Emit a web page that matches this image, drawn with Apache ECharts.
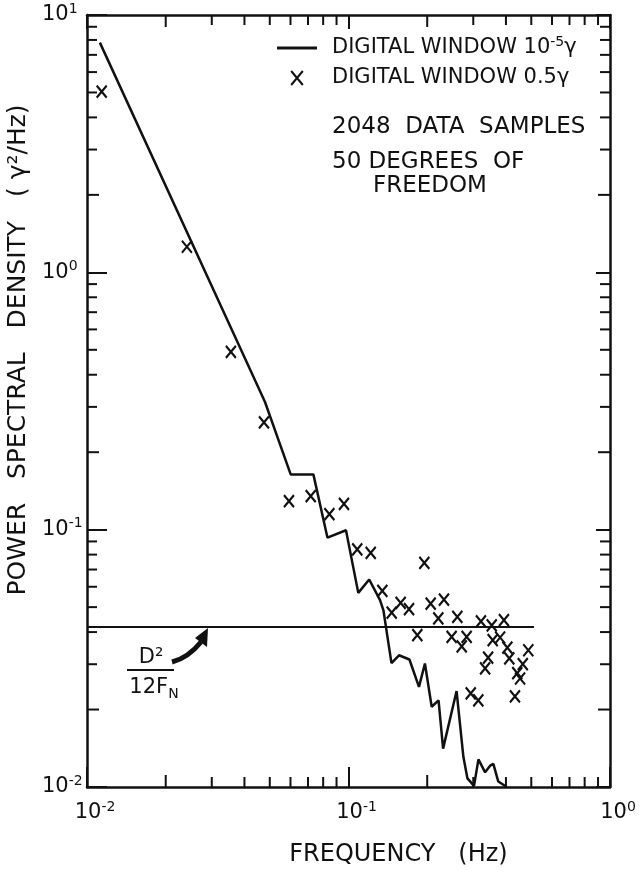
<!DOCTYPE html>
<html>
<head>
<meta charset="utf-8">
<script src="https://cdn.jsdelivr.net/npm/echarts@6/dist/echarts.min.js"></script>
<style>
html, body { margin: 0; padding: 0; background: #fff; }
#container { width: 644px; height: 871px; }
</style>
</head>
<body>
<div id="container"></div>
<script>
//digital window 10^-5 gamma, solid curve
var lineFreq = [0.0112, 0.0479, 0.0601, 0.0734, 0.0831, 0.0978, 0.109, 0.120, 0.132, 0.136, 0.146, 0.156, 0.171, 0.186,
    0.196, 0.208, 0.221, 0.230, 0.259, 0.275, 0.285, 0.302, 0.314, 0.333, 0.348, 0.358, 0.374, 0.403];
var linePsd = [7.81, 0.314, 0.164, 0.164, 0.0931, 0.0995, 0.0568, 0.0640, 0.0532, 0.0486, 0.0303, 0.0325, 0.0313, 0.0245,
    0.0302, 0.0205, 0.0217, 0.0141, 0.0236, 0.0131, 0.0108, 0.0101, 0.0128, 0.0114, 0.0121, 0.0123, 0.0105, 0.0100];
//digital window 0.5 gamma, x marks
var markFreq = [0.01138, 0.0241, 0.0355, 0.0475, 0.0592, 0.0717, 0.0845, 0.0961, 0.108, 0.1216, 0.195, 0.1347, 0.1463,
    0.1583, 0.1704, 0.1833, 0.2062, 0.2318, 0.2205, 0.2607, 0.248, 0.271, 0.283, 0.321, 0.353, 0.393, 0.356, 0.380,
    0.405, 0.412, 0.487, 0.342, 0.333, 0.464, 0.442, 0.453, 0.433, 0.2934, 0.3136];
var markPsd = [5.04, 1.257, 0.491, 0.261, 0.129, 0.135, 0.115, 0.126, 0.0838, 0.0813, 0.0743, 0.0578, 0.0476,
    0.0519, 0.0491, 0.0389, 0.0516, 0.0535, 0.0452, 0.0458, 0.0383, 0.0352, 0.0383, 0.0440, 0.0425, 0.0445, 0.0372, 0.0381,
    0.0348, 0.0316, 0.0340, 0.0318, 0.0289, 0.0300, 0.0277, 0.0264, 0.0225, 0.0231, 0.0217];
//D^2/12FN level
var levelFreq = [0.01, 0.512];
var levelPsd = [0.0419, 0.0419];
//minor tick values
var minorFreq = [0.02, 0.03, 0.04, 0.05, 0.06, 0.07, 0.08, 0.09, 0.2, 0.3, 0.4, 0.5, 0.6, 0.7, 0.8, 0.9];
var minorPsd = [0.02, 0.03, 0.04, 0.05, 0.06, 0.07, 0.08, 0.09, 0.2, 0.3, 0.4, 0.5, 0.6, 0.7, 0.8, 0.9,
    2, 3, 4, 5, 6, 7, 8, 9];

var FONT = 'DejaVu Sans';
var INK = '#111';
var lineName = 'DIGITAL WINDOW 10-5γ';
var markName = 'DIGITAL WINDOW 0.5γ';

function zip(a, b) {
    var out = [];
    for (var i = 0; i < a.length; i++) out.push([a[i], b[i]]);
    return out;
}
//10 的幂标签
function powLabel(v) {
    var e = Math.round(Math.log(v) / Math.LN10);
    return '{b|10}{s|' + (e < 0 ? '-' + (-e) : e) + '}';
}
var labelRich = {
    b: { fontFamily: FONT, fontSize: 21, color: INK, lineHeight: 26 },
    s: { fontFamily: FONT, fontSize: 14, color: INK, lineHeight: 14, verticalAlign: 'top' }
};
function isTwo(v) {
    var m = v / Math.pow(10, Math.floor(Math.log(v) / Math.LN10 + 1e-9));
    return Math.abs(m - 2) < 1e-6;
}
var tickStyle = { stroke: INK, lineWidth: 2 };

var dom = document.getElementById('container');
var myChart = echarts.init(dom);
var option = {
    backgroundColor: '#fff',
    animation: false,
    //坐标名不要把绘图区挤小
    grid: { left: 87, right: 34, top: 15, bottom: 84, outerBoundsMode: 'none' },
    legend: {
        orient: 'vertical',
        left: 272,
        top: 30,
        itemWidth: 40,
        itemHeight: 14,
        itemGap: 9,
        data: [
            { name: lineName, icon: 'path://M0,0H40V3H0Z' },
            { name: markName }
        ],
        formatter: function (name) {
            if (name === lineName) return '{t|DIGITAL WINDOW 10}{sup|-5}{t|γ}';
            return '{t|' + name + '}';
        },
        textStyle: {
            fontFamily: FONT, fontSize: 21, color: INK, padding: [0, 0, 0, 10],
            rich: {
                t: { fontFamily: FONT, fontSize: 21, color: INK, lineHeight: 26 },
                sup: { fontFamily: FONT, fontSize: 14, color: INK, lineHeight: 14, verticalAlign: 'top' }
            }
        }
    },
    xAxis: [{
        type: 'log', min: 0.01, max: 1, position: 'bottom',
        name: 'FREQUENCY   (Hz)', nameLocation: 'middle', nameGap: 56,
        nameTextStyle: { fontFamily: FONT, fontSize: 24, color: INK, padding: [0, 0, 0, 100] },
        axisLine: { lineStyle: { color: INK, width: 2.5 } },
        axisTick: { inside: true, length: 20, lineStyle: { color: INK, width: 2 } },
        axisLabel: { formatter: powLabel, rich: labelRich, margin: 13, padding: [0, 0, 0, 16], showMinLabel: true, showMaxLabel: true },
        splitLine: { show: false }
    }, {
        type: 'log', min: 0.01, max: 1, position: 'top',
        axisLine: { lineStyle: { color: INK, width: 2.5 } },
        axisTick: { inside: true, length: 14, lineStyle: { color: INK, width: 2 } },
        axisLabel: { show: false },
        splitLine: { show: false }
    }],
    yAxis: [{
        type: 'log', min: 0.01, max: 10, position: 'left',
        name: 'POWER   SPECTRAL   DENSITY   ( γ²/Hz)', nameLocation: 'middle', nameGap: 47,
        nameTextStyle: { fontFamily: FONT, fontSize: 25, color: INK, padding: [0, 0, 0, 102] },
        axisLine: { lineStyle: { color: INK, width: 2.5 } },
        axisTick: { inside: true, length: 20, lineStyle: { color: INK, width: 2 } },
        axisLabel: { formatter: powLabel, rich: labelRich, margin: 45, align: 'left', showMinLabel: true, showMaxLabel: true },
        splitLine: { show: false }
    }, {
        type: 'log', min: 0.01, max: 10, position: 'right',
        axisLine: { lineStyle: { color: INK, width: 2.5 } },
        axisTick: { inside: true, length: 14, lineStyle: { color: INK, width: 2 } },
        axisLabel: { show: false },
        splitLine: { show: false }
    }],
    series: [{
        name: lineName,
        type: 'line',
        symbol: 'none',
        lineStyle: { color: INK, width: 2.5 },
        itemStyle: { color: INK },
        data: zip(lineFreq, linePsd)
    }, {
        name: markName,
        type: 'scatter',
        symbol: 'path://M0,0L10,12M10,0L0,12',
        symbolSize: [10, 12],
        itemStyle: { color: INK, borderColor: INK, borderWidth: 2.2, opacity: 1 },
        data: zip(markFreq, markPsd)
    }, {
        name: 'level',
        type: 'line',
        symbol: 'none',
        lineStyle: { color: INK, width: 2 },
        data: zip(levelFreq, levelPsd)
    }, {
        //横轴次刻度，上下两边
        name: 'xminor',
        type: 'custom',
        silent: true,
        clip: false,
        renderItem: function (params, api) {
            var v = api.value(0);
            var p = api.coord([v, 0.01]);
            var cs = params.coordSys;
            var len = isTwo(v) ? 12 : 10;
            var bottom = cs.y + cs.height;
            return {
                type: 'group', children: [
                    { type: 'line', shape: { x1: p[0], y1: bottom, x2: p[0], y2: bottom - len }, style: tickStyle },
                    { type: 'line', shape: { x1: p[0], y1: cs.y, x2: p[0], y2: cs.y + len }, style: tickStyle }
                ]
            };
        },
        data: minorFreq.map(function (v) { return [v, 0.01]; })
    }, {
        //纵轴次刻度，左右两边
        name: 'yminor',
        type: 'custom',
        silent: true,
        clip: false,
        renderItem: function (params, api) {
            var v = api.value(1);
            var p = api.coord([0.01, v]);
            var cs = params.coordSys;
            var len = isTwo(v) ? 12 : 10;
            var right = cs.x + cs.width;
            return {
                type: 'group', children: [
                    { type: 'line', shape: { x1: cs.x, y1: p[1], x2: cs.x + len, y2: p[1] }, style: tickStyle },
                    { type: 'line', shape: { x1: right, y1: p[1], x2: right - len, y2: p[1] }, style: tickStyle }
                ]
            };
        },
        data: minorPsd.map(function (v) { return [0.01, v]; })
    }],
    graphic: [
        { type: 'text', style: { text: '2048  DATA  SAMPLES', x: 332, y: 127, verticalAlign: 'middle', fontFamily: FONT, fontSize: 23, fill: INK } },
        { type: 'text', style: { text: '50 DEGREES  OF', x: 332, y: 162, verticalAlign: 'middle', fontFamily: FONT, fontSize: 23, fill: INK } },
        { type: 'text', style: { text: 'FREEDOM', x: 430, y: 186, align: 'center', verticalAlign: 'middle', fontFamily: FONT, fontSize: 23, fill: INK } },
        { type: 'text', style: { text: 'D²', x: 151, y: 658, align: 'center', verticalAlign: 'middle', fontFamily: FONT, fontSize: 21, fill: INK } },
        { type: 'line', shape: { x1: 127, y1: 670, x2: 174, y2: 670 }, style: { stroke: INK, lineWidth: 2 } },
        {
            type: 'text', style: {
                text: '{m|12F}{n|N}', x: 154, y: 689, align: 'center', verticalAlign: 'middle', fill: INK,
                rich: {
                    m: { fontFamily: FONT, fontSize: 21, fill: INK, lineHeight: 24, verticalAlign: 'top' },
                    n: { fontFamily: FONT, fontSize: 14, fill: INK, lineHeight: 14, verticalAlign: 'bottom' }
                }
            }
        },
        { type: 'bezierCurve', shape: { x1: 172, y1: 662, cpx1: 188, cpy1: 658, x2: 201, y2: 642 }, style: { stroke: INK, lineWidth: 5, fill: null } },
        { type: 'polygon', shape: { points: [[208, 628], [195, 638], [207, 647]] }, style: { fill: INK } }
    ]
};
myChart.setOption(option, true);
</script>
</body>
</html>
